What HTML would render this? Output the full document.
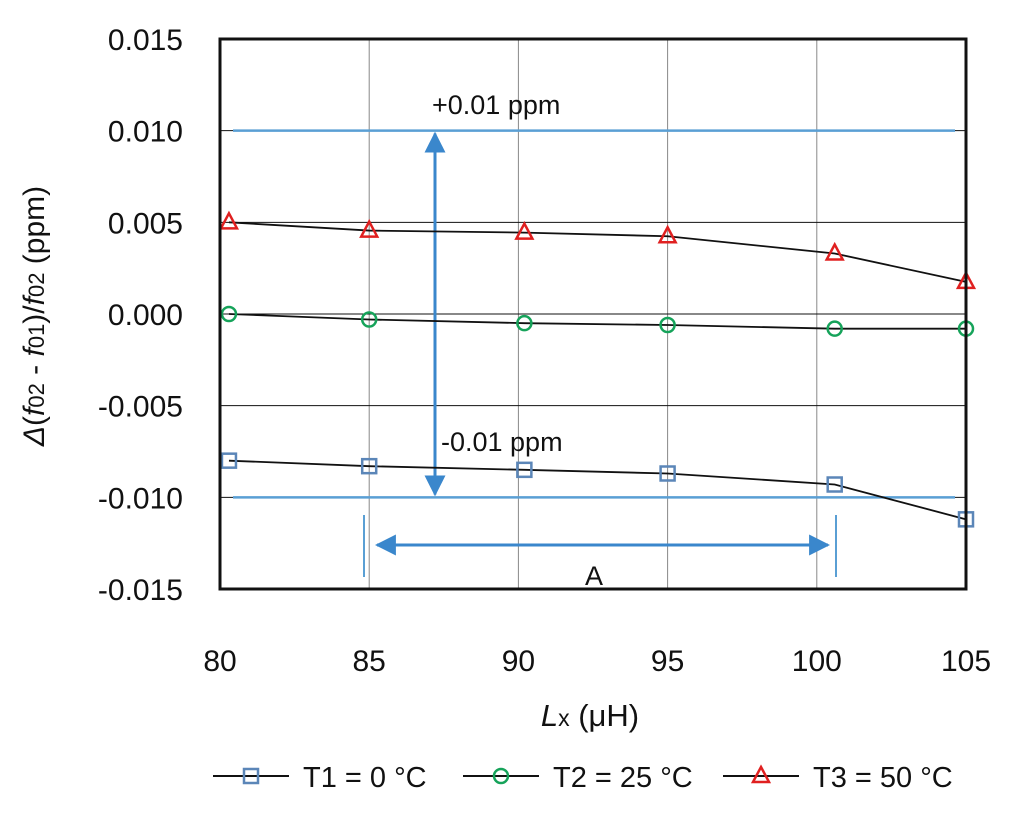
<!DOCTYPE html>
<html><head><meta charset="utf-8"><style>
body{margin:0;background:#fff;}
svg{display:block;font-family:"Liberation Sans","DejaVu Sans",sans-serif;}
</style></head><body>
<svg id="chart" width="1024" height="819" viewBox="0 0 1024 819" xmlns="http://www.w3.org/2000/svg">
<defs>
<marker id="ah" viewBox="0 0 10 10" refX="9" refY="5" markerWidth="7" markerHeight="7" orient="auto-start-reverse"><path d="M0,0 L10,5 L0,10 z" fill="#3a87cc"/></marker>
</defs>
<g id="grid"></g>
<g id="ann"></g>
<g id="series"></g>
<g id="axes"></g>
<g id="legend"></g>
</svg>
<script>
const xTicks=[80,85,90,95,100,105];
const yTicks=[0.015,0.010,0.005,0.000,-0.005,-0.010,-0.015];
const yTickLabels=["0.015","0.010","0.005","0.000","-0.005","-0.010","-0.015"];
const xT1=[80.3,85,90.2,95,100.6,105];
const yT1=[-0.0080,-0.0083,-0.0085,-0.0087,-0.0093,-0.0112];
const xT2=[80.3,85,90.2,95,100.6,105];
const yT2=[0,-0.0003,-0.0005,-0.0006,-0.0008,-0.0008];
const xT3=[80.3,85,90.2,95,100.6,105];
const yT3=[0.0050,0.00455,0.00444,0.00424,0.0033,0.00175];
const L=220,R=966,T=39,B=589;
const X=v=>L+(v-80)/25*(R-L);
const Y=v=>T+(0.015-v)/0.03*(B-T);
const NS="http://www.w3.org/2000/svg";
function mk(p,tag,at,txt){const e=document.createElementNS(NS,tag);for(const k in at)e.setAttribute(k,at[k]);if(txt!==undefined)e.textContent=txt;p.appendChild(e);return e;}
const grid=document.getElementById('grid'),axes=document.getElementById('axes'),ser=document.getElementById('series'),ann=document.getElementById('ann'),leg=document.getElementById('legend');
xTicks.forEach(v=>{
 const l=mk(grid,'line',{x1:X(v),x2:X(v),y1:T,y2:B,stroke:'#888','stroke-width':1});
 
 
 const t=mk(axes,'text',{x:X(v),y:671,'font-size':30,'text-anchor':'middle',fill:'#111'},String(v));
 
 
});
yTicks.forEach((v,i)=>{
 const l=mk(grid,'line',{x1:L,x2:R,y1:Y(v),y2:Y(v),stroke:'#111','stroke-width':1});
 
 
 const t=mk(axes,'text',{x:183,y:Y(v)+11,'font-size':30,'text-anchor':'end',fill:'#111'},yTickLabels[i]);
 
 
});
const fr=mk(axes,'rect',{x:L,y:T,width:R-L,height:B-T,fill:'none',stroke:'#111','stroke-width':3});


const blue='#3a87cc';
[0.01,-0.01].forEach(v=>{const l=mk(ann,'line',{x1:233,x2:955,y1:Y(v),y2:Y(v),stroke:'#5a9fd4','stroke-width':2.5});
 
 });
const va=mk(ann,'line',{x1:435,x2:435,y1:Y(0.01)+3,y2:Y(-0.01)-3,stroke:blue,'stroke-width':3,'marker-start':'url(#ah)','marker-end':'url(#ah)'});


const ha=mk(ann,'line',{x1:377,x2:828,y1:545,y2:545,stroke:blue,'stroke-width':3,'marker-start':'url(#ah)','marker-end':'url(#ah)'});


[364,836].forEach(x=>{const l=mk(ann,'line',{x1:x,x2:x,y1:515,y2:577,stroke:'#5a9fd4','stroke-width':2});
 
 });
const t1=mk(ann,'text',{x:432,y:114,'font-size':27,fill:'#111'},'+0.01 ppm');


const t2=mk(ann,'text',{x:441,y:451,'font-size':27,fill:'#111'},'-0.01 ppm');


const t3=mk(ann,'text',{x:594,y:585,'font-size':27,'text-anchor':'middle',fill:'#111'},'A');


function marker(g,type,x,y,c){
 if(type==='sq')return mk(g,'rect',{x:x-7,y:y-7,width:14,height:14,fill:'none',stroke:c,'stroke-width':2.5});
 if(type==='ci')return mk(g,'circle',{cx:x,cy:y,r:7,fill:'none',stroke:c,'stroke-width':2.5});
 return mk(g,'path',{d:`M${x},${y-9} L${x+8},${y+6} L${x-8},${y+6} Z`,fill:'none',stroke:c,'stroke-width':2.5});
}
const S=[[xT1,yT1,'sq','#5b86b8','series-t1'],[xT2,yT2,'ci','#16a35a','series-t2'],[xT3,yT3,'tr','#e02020','series-t3']];
S.forEach(([xs,ys,m,c,n])=>{
 const g=mk(ser,'g',{});
 
 
 const pl=mk(g,'polyline',{points:xs.map((x,i)=>X(x)+','+Y(ys[i])).join(' '),fill:'none',stroke:'#111','stroke-width':1.8});
 
 
 xs.forEach((x,i)=>{const e=marker(g,m,X(x),Y(ys[i]),c);
  
  });
});
const xt=mk(axes,'text',{x:590,y:726,'font-size':31,'text-anchor':'middle',fill:'#111'});


xt.innerHTML='<tspan font-style="italic">L</tspan><tspan font-size="23">x</tspan> (μH)';
const yt=mk(axes,'text',{x:0,y:0,'font-size':30,'text-anchor':'middle',fill:'#111',transform:'translate(44,316) rotate(-90)'});


yt.innerHTML='<tspan font-style="italic">Δ</tspan>(<tspan font-style="italic">f</tspan><tspan font-size="22">02</tspan> - <tspan font-style="italic">f</tspan><tspan font-size="22">01</tspan>)/<tspan font-style="italic">f</tspan><tspan font-size="22">02</tspan> (ppm)';
const LG=[['sq','#5b86b8','T1 = 0 °C',213],['ci','#16a35a','T2 = 25 °C',463],['tr','#e02020','T3 = 50 °C',723]];
LG.forEach(([m,c,lab,x0])=>{
 const g=mk(leg,'g',{});
 
 
 mk(g,'line',{x1:x0,x2:x0+76,y1:776,y2:776,stroke:'#111','stroke-width':2});
 marker(g,m,x0+38,776,c);
 mk(g,'text',{x:x0+90,y:787,'font-size':29,fill:'#111'},lab);
});
</script>
</body></html>
